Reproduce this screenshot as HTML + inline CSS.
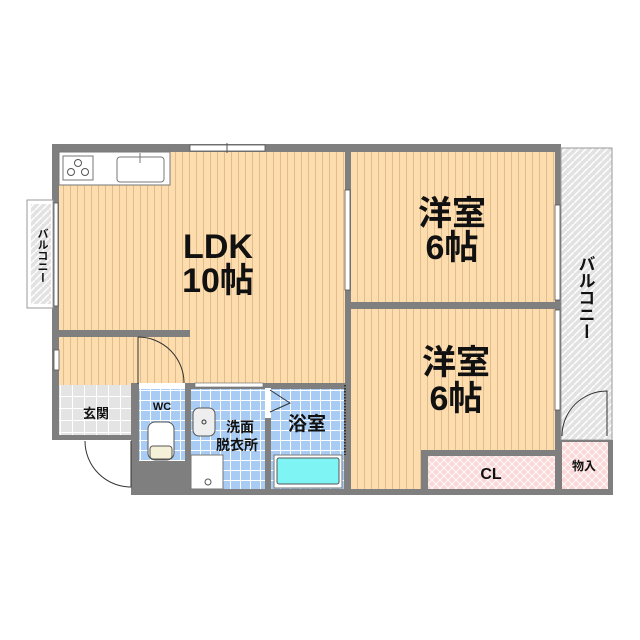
<!DOCTYPE html>
<html><head><meta charset="utf-8"><style>
html,body{margin:0;padding:0;background:#fff;}
svg{display:block;}
text{font-family:"Liberation Sans","Noto Sans CJK JP",sans-serif;fill:#111;}
.b{font-weight:bold;}
</style></head><body>
<svg width="640" height="640" viewBox="0 0 640 640" xmlns="http://www.w3.org/2000/svg">
<defs>
<pattern id="fl" width="7" height="10" patternUnits="userSpaceOnUse">
<rect width="7" height="10" fill="#fddcae"/><line x1="0.5" y1="0" x2="0.5" y2="10" stroke="#d9b486" stroke-width="0.8"/></pattern>
<pattern id="bt" width="10" height="10" patternUnits="userSpaceOnUse">
<rect width="10" height="10" fill="#a8ccf4"/><path d="M0 0.5H10M0.5 0V10" stroke="#fff" stroke-width="1"/></pattern>
<pattern id="gt" width="12" height="12" patternUnits="userSpaceOnUse">
<rect width="12" height="12" fill="#e4e4e4"/><path d="M0 0.5H12M0.5 0V12" stroke="#fff" stroke-width="1"/></pattern>
<pattern id="hb" width="7" height="7" patternUnits="userSpaceOnUse">
<rect width="7" height="7" fill="#e2e2e2"/><path d="M-1 8L8 -1" stroke="#fff" stroke-width="1.5"/></pattern>
<pattern id="pk" width="8" height="8" patternUnits="userSpaceOnUse">
<rect width="8" height="8" fill="#fbd8d8"/><path d="M0 0L8 8M8 0L0 8" stroke="#fff" stroke-width="0.8"/></pattern>
</defs>
<rect x="52" y="144" width="509" height="351" fill="#7f7f7f"/>
<rect x="131" y="440" width="60" height="55" fill="#7f7f7f"/>
<rect x="52" y="440" width="80" height="55" fill="#fff"/>
<rect x="59" y="152" width="286" height="178" fill="url(#fl)"/>
<rect x="190" y="330" width="155" height="53" fill="url(#fl)"/>
<rect x="59" y="337" width="131" height="48" fill="url(#fl)"/>
<rect x="59" y="385" width="72" height="50" fill="url(#gt)"/>
<rect x="351" y="152" width="204" height="150" fill="url(#fl)"/>
<rect x="351" y="309" width="204" height="180" fill="url(#fl)"/>
<rect x="428" y="456" width="127" height="33" fill="url(#pk)"/>
<rect x="421" y="450" width="7" height="40" fill="#7f7f7f"/>
<rect x="421" y="450" width="140" height="6" fill="#7f7f7f"/>
<rect x="139" y="389" width="46" height="72" fill="url(#bt)"/>
<rect x="191" y="389" width="74" height="100" fill="url(#bt)"/>
<rect x="271" y="389" width="73" height="100" fill="url(#bt)"/>
<rect x="561" y="148" width="51" height="292" fill="url(#hb)" stroke="#999" stroke-width="1"/>
<rect x="561" y="440" width="52" height="55" fill="#7f7f7f"/>
<rect x="562" y="442" width="46" height="47" fill="url(#pk)"/>
<path d="M562 436 A45 45 0 0 1 607 391 L607 436" fill="none" stroke="#333" stroke-width="1"/>
<rect x="27" y="200" width="26" height="108" fill="#fff" stroke="#999"/>
<rect x="31" y="204" width="20" height="100" fill="url(#hb)"/>
<rect x="190" y="145" width="75" height="6" fill="#fff" stroke="#555" stroke-width="0.8"/>
<line x1="227" y1="143" x2="227" y2="153" stroke="#555"/>
<rect x="54" y="203" width="4" height="103" fill="#fff" stroke="#555" stroke-width="0.8"/>
<rect x="345" y="190" width="5" height="100" fill="#fff" stroke="#555" stroke-width="0.8"/>
<rect x="555" y="205" width="5" height="95" fill="#fff" stroke="#555" stroke-width="0.8"/>
<rect x="555" y="310" width="5" height="100" fill="#fff" stroke="#555" stroke-width="0.8"/>
<rect x="54" y="350" width="5" height="20" fill="#fff" stroke="#555" stroke-width="0.8"/>
<rect x="52" y="330" width="138" height="7" fill="#7f7f7f"/>
<rect x="345" y="302" width="216" height="7" fill="#7f7f7f"/>
<rect x="131" y="383" width="216" height="6" fill="#7f7f7f"/>
<rect x="131" y="383" width="8" height="112" fill="#7f7f7f"/>
<rect x="185" y="383" width="6" height="112" fill="#7f7f7f"/>
<rect x="265" y="383" width="6" height="112" fill="#7f7f7f"/>
<rect x="139" y="461" width="46" height="28" fill="#7f7f7f"/>
<rect x="139" y="383" width="46" height="6" fill="#fff"/>
<rect x="195" y="383" width="68" height="4" fill="#fff" stroke="#666" stroke-width="0.6"/>
<rect x="265" y="388" width="6" height="30" fill="#fff"/>
<rect x="59" y="152" width="111" height="33" fill="#fff" stroke="#777"/>
<rect x="63" y="156" width="30" height="24" fill="#fff" stroke="#777"/>
<circle cx="78" cy="163" r="3.5" fill="none" stroke="#555"/>
<circle cx="71" cy="172" r="3.5" fill="none" stroke="#555"/>
<circle cx="85" cy="172" r="3.5" fill="none" stroke="#555"/>
<rect x="117" y="157" width="47" height="25" rx="3" fill="#fff" stroke="#777"/>
<line x1="140" y1="153" x2="140" y2="163" stroke="#777"/>
<path d="M138 337 L138 384 M138 337 A46 46 0 0 1 184 383" fill="none" stroke="#333"/>
<path d="M85 441 A46 46 0 0 0 131 487 L131 441" fill="none" stroke="#333"/>
<path d="M270 390 L290 403 L270 412" fill="none" stroke="#333"/>
<line x1="345" y1="385" x2="345" y2="455" stroke="#333" stroke-dasharray="1.5 1.5" stroke-width="2"/>
<rect x="148" y="422" width="26" height="38" rx="7" fill="#fff" stroke="#555"/>
<rect x="150" y="446" width="22" height="13" rx="3" fill="#f5f0d8" stroke="#555"/>
<rect x="193" y="408" width="22" height="28" rx="6" fill="#eee" stroke="#555"/>
<circle cx="204" cy="422" r="2" fill="none" stroke="#333"/>
<rect x="191" y="455" width="32" height="34" fill="#fff" stroke="#777"/>
<circle cx="208" cy="482" r="3" fill="none" stroke="#555"/>
<rect x="274" y="455" width="68" height="33" fill="#fff" stroke="#777"/>
<rect x="277" y="458" width="62" height="26" rx="2" fill="#7ff4f4" stroke="#555"/>
<text class="b" x="218" y="258" font-size="34" text-anchor="middle">LDK</text>
<text class="b" x="218" y="292" font-size="34" text-anchor="middle">10帖</text>
<text class="b" x="452" y="225" font-size="34" text-anchor="middle">洋室</text>
<text class="b" x="452" y="259" font-size="34" text-anchor="middle">6帖</text>
<text class="b" x="456" y="374" font-size="34" text-anchor="middle">洋室</text>
<text class="b" x="456" y="410" font-size="34" text-anchor="middle">6帖</text>
<text x="491" y="479" font-size="16" text-anchor="middle" font-weight="bold">CL</text>
<text class="b" x="584" y="470" font-size="12" text-anchor="middle">物入</text>
<text class="b" x="96" y="418" font-size="13" text-anchor="middle">玄関</text>
<text class="b" x="162" y="410" font-size="11" text-anchor="middle">WC</text>
<text class="b" x="240" y="432" font-size="14" text-anchor="middle">洗面</text>
<text class="b" x="237" y="450" font-size="14" text-anchor="middle">脱衣所</text>
<text class="b" x="307" y="430" font-size="19" text-anchor="middle">浴室</text>
<text class="b" x="585" y="255" font-size="17" writing-mode="tb" text-anchor="start">バルコニー</text>
<text class="b" x="42" y="228" font-size="11" writing-mode="tb" text-anchor="start">バルコニー</text>
</svg>
</body></html>
